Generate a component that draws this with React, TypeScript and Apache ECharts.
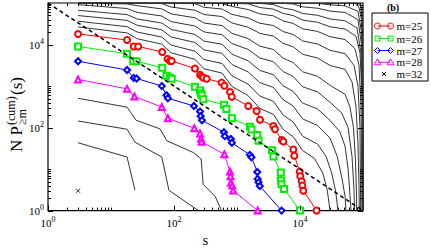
import React, { useEffect, useRef } from 'react';
import * as echarts from 'echarts';

const FONT = "'Liberation Serif', 'Times New Roman', Times, serif";

// tick values
const X_TICK_MAJOR = [1, 100, 10000];
const X_TICK_MINOR = [2, 3, 4, 5, 6, 7, 8, 9, 10, 200, 300, 400, 500, 600, 700, 800, 900, 1000, 20000, 30000, 40000, 50000, 60000, 70000, 80000, 90000];
const Y_TICK_MAJOR = [1, 100, 10000];
const Y_TICK_MINOR = [2, 3, 4, 5, 6, 7, 8, 9, 10, 200, 300, 400, 500, 600, 700, 800, 900, 1000, 20000, 30000, 40000, 50000, 60000, 70000, 80000, 90000];

// coloured series
const M25_S = [3, 18, 23, 27, 65, 79, 86, 92, 215, 259, 275, 292, 330, 570, 630, 775, 825, 1510, 2050, 2320, 3770, 4010, 5130, 5430, 7830, 8130, 9900, 10100, 10640, 10900, 11300, 18400];
const M25_V = [18000, 12800, 9000, 9000, 6600, 4500, 4000, 4000, 2650, 1870, 1710, 1580, 1500, 1210, 1020, 720, 550, 330, 250, 154, 109, 91, 50, 46, 29.5, 21, 8.7, 6.7, 5.1, 4, 3, 1];
const M26_S = [3, 18, 22.5, 25.5, 65, 76, 86, 92, 215, 259, 269, 275, 292, 620, 680, 830, 1600, 1700, 2100, 2200, 3600, 3800, 4950, 5000, 5100, 5600, 10000];
const M26_V = [9000, 6000, 3960, 3960, 2750, 1770, 1590, 1500, 960, 780, 658, 600, 480, 355, 280, 168, 105, 90, 66, 48, 28.5, 20, 8.3, 5.3, 4.3, 3.3, 1];
const M27_S = [3, 18, 23, 25.5, 64, 76, 80, 207, 259, 265, 278, 620, 640, 800, 830, 1600, 1700, 2100, 2130, 2200, 2300, 5100];
const M27_V = [3960, 2430, 1570, 1520, 1000, 600, 507, 331, 243, 188, 150, 77, 62, 53, 43, 22, 19.3, 8.5, 5.8, 4.8, 3.9, 1];
const M28_S = [3, 18, 23.5, 64, 80, 210, 259, 269, 275, 630, 775, 790, 800, 840, 870, 2130];
const M28_V = [1440, 855, 560, 312, 168, 96, 72, 54, 45.5, 22.7, 8.7, 6.7, 4.7, 4, 3.05, 1];
const M32_S = [3];
const M32_V = [3];

// black curves (other m), [s, N P] pairs
const M29 = [[3, 507], [18, 310], [25, 150], [60, 93], [77, 48], [203, 25], [270, 17.5], [290, 4.3], [450, 2.2], [570, 1]];
const M30 = [[3, 144], [18, 91], [24, 44.5], [64, 19.5], [83, 3.1], [243, 1]];
const M31 = [[3, 43], [18, 19.5], [24, 3.1]];
const M24 = [[3, 26600], [18, 19000], [26, 13800], [64, 10200], [90, 6300], [215, 4400], [300, 2600], [580, 2050], [830, 980], [1500, 590], [2300, 290], [3800, 207], [5400, 90], [7800, 60], [11000, 28], [17000, 18], [23000, 8], [27000, 3.2], [30000, 1]];
const M23 = [[3, 36400], [18, 26900], [26, 20000], [64, 15100], [90, 9700], [215, 6900], [300, 4360], [580, 3490], [830, 1770], [1500, 1110], [2300, 575], [3800, 427], [5400, 200], [7800, 136], [11000, 62], [19000, 40], [26000, 20], [32000, 7.9], [37000, 2.8], [40000, 1]];
const M22 = [[3, 49900], [18, 38100], [26, 29100], [64, 22600], [90, 15200], [215, 11200], [300, 7430], [580, 6100], [830, 3310], [1500, 2190], [2300, 1210], [3800, 925], [5400, 468], [7800, 331], [11000, 162], [19000, 112], [30000, 56], [39000, 20], [46000, 6.3], [52000, 2.2], [53500, 1]];
const M21 = [[3, 66800], [18, 52500], [26, 41200], [64, 32900], [90, 23100], [215, 17500], [300, 12100], [580, 10100], [830, 5860], [1500, 4050], [2300, 2380], [3800, 1870], [5400, 1010], [7800, 745], [11000, 389], [19000, 282], [30000, 148], [43000, 79], [52000, 35], [58000, 10], [62000, 2.5], [64500, 1]];
const M20 = [[3, 91200], [18, 73600], [26, 59400], [64, 48600], [90, 35600], [215, 27900], [300, 20100], [580, 17200], [830, 10600], [1500, 7600], [2300, 4750], [3800, 3840], [5400, 2230], [7800, 1700], [11000, 959], [19000, 724], [30000, 407], [46000, 224], [58000, 100], [67000, 20], [72000, 3.2], [73500, 1]];
const M19 = [[3, 98000], [18, 95000], [26, 86100], [64, 72100], [90, 54600], [215, 44100], [300, 32900], [580, 28600], [830, 18600], [1500, 13900], [2300, 9140], [3800, 7570], [5400, 4680], [7800, 3670], [11000, 2210], [19000, 1720], [30000, 1040], [52000, 631], [62000, 316], [70600, 100], [76000, 15.8], [78900, 2.5], [79400, 1]];
const M18 = [[3, 98500], [64, 97000], [90, 80000], [215, 67000], [300, 52800], [580, 47200], [830, 33100], [1500, 26100], [2300, 18600], [3800, 15900], [5400, 10700], [7800, 8810], [11000, 5820], [19000, 4730], [30000, 3130], [52000, 2510], [67000, 1260], [77400, 316], [83300, 40], [86400, 4], [87400, 1]];
const M17 = [[3, 99000], [215, 96600], [300, 78900], [580, 71600], [830, 53200], [1500, 43600], [2300, 32600], [3800, 28600], [5400, 20500], [7800, 17400], [11000, 12200], [19000, 10300], [30000, 7240], [52000, 6030], [71900, 3160], [83300, 1000], [89600, 100], [90600, 10], [91900, 1]];
const M16 = [[3, 99000], [580, 97000], [830, 82600], [1500, 69700], [2300, 54700], [3800, 49000], [5400, 37000], [7800, 32100], [11000, 23900], [19000, 20700], [30000, 15400], [52000, 13200], [74600, 7940], [86400, 3160], [92900, 316], [95300, 10], [96300, 1]];
const M15 = [[3, 99000], [830, 98000], [1500, 95500], [2300, 77800], [3800, 71000], [5400, 56000], [7800, 49800], [11000, 38800], [19000, 34300], [30000, 26700], [52000, 23600], [77400, 15800], [89600, 6310], [96300, 631], [98500, 15.8], [100000, 1]];
const M14 = [[3, 99000], [2300, 98000], [3800, 91600], [5400, 75500], [7800, 68500], [11000, 56000], [19000, 50600], [30000, 41300], [52000, 37300], [80300, 25100], [92900, 6310], [98100, 316], [100000, 1]];
const M13 = [[3, 99000], [5400, 98000], [7800, 94600], [11000, 80900], [19000, 74800], [30000, 64000], [52000, 59200], [83300, 39800], [94600, 10000], [98100, 1000], [100000, 1]];
const M12 = [[3, 99000], [19000, 98000], [30000, 90600], [52000, 85300], [83300, 63100], [94600, 20000], [98100, 3160], [100000, 1]];
const M11 = [[3, 99000], [74600, 98000], [86400, 79400], [94600, 39800], [98100, 10000], [100000, 1]];
const M10 = [[3, 99000], [83300, 98000], [92900, 79400], [97000, 31600], [99000, 3160], [100000, 1]];
const M9 = [[3, 99000], [90000, 98000], [95000, 70000], [98500, 20000], [100000, 1]];
const BLACK_LINES = [M9, M10, M11, M12, M13, M14, M15, M16, M17, M18, M19, M20, M21, M22, M23, M24, M29, M30, M31];

const DIAG_S = [1, 100000];
const DIAG_V = [100000, 1];

const LEGEND = [
  { label: 'm=25', color: '#ff0000', shape: 'circle' },
  { label: 'm=26', color: '#00ee00', shape: 'square' },
  { label: 'm=27', color: '#0000ff', shape: 'diamond' },
  { label: 'm=28', color: '#ff00ff', shape: 'triangle' },
  { label: 'm=32', color: '#000000', shape: 'cross' },
];

const zip = (s: number[], v: number[]) => s.map((x, i) => [x, v[i]]);

function tickSeries(values: number[], axis: 'x' | 'y', len: number) {
  return {
    type: 'custom',
    silent: true,
    z: 10,
    clip: false,
    data: values.map((v) => (axis === 'x' ? [v, 1] : [1, v])),
    renderItem: (params: any, api: any) => {
      const cs = params.coordSys;
      const st = { stroke: '#000', lineWidth: 1 };
      if (axis === 'x') {
        const p = api.coord([api.value(0), 1]);
        const x = Math.round(p[0]) + 0.5;
        return {
          type: 'group',
          children: [
            { type: 'line', shape: { x1: x, y1: cs.y + cs.height, x2: x, y2: cs.y + cs.height - len }, style: st },
            { type: 'line', shape: { x1: x, y1: cs.y, x2: x, y2: cs.y + len }, style: st },
          ],
        };
      }
      const p = api.coord([1, api.value(1)]);
      const y = Math.round(p[1]) + 0.5;
      return {
        type: 'group',
        children: [
          { type: 'line', shape: { x1: cs.x, y1: y, x2: cs.x + len, y2: y }, style: st },
          { type: 'line', shape: { x1: cs.x + cs.width, y1: y, x2: cs.x + cs.width - len, y2: y }, style: st },
        ],
      };
    },
  };
}

function legendGraphics() {
  const x0 = 372;
  const y0 = 13;
  const items: any[] = [
    { type: 'rect', shape: { x: x0, y: y0, width: 56, height: 68 }, style: { fill: '#fff', stroke: '#000', lineWidth: 1 } },
  ];
  const ys = [26, 38.5, 50.5, 62.3, 74];
  LEGEND.forEach((it, i) => {
    const y = ys[i];
    const xa = 377.5;
    const xb = 390.5;
    const st = { fill: 'none', stroke: it.color, lineWidth: 1 };
    if (it.shape !== 'cross') {
      items.push({ type: 'line', shape: { x1: xa, y1: y, x2: xb, y2: y }, style: { stroke: it.color, lineWidth: 1 } });
      [xa, xb].forEach((cx) => {
        if (it.shape === 'circle') items.push({ type: 'circle', shape: { cx, cy: y, r: 3 }, style: st });
        if (it.shape === 'square') items.push({ type: 'rect', shape: { x: cx - 2.5, y: y - 2.5, width: 5, height: 5 }, style: st });
        if (it.shape === 'diamond') items.push({ type: 'polygon', shape: { points: [[cx, y - 3], [cx + 3, y], [cx, y + 3], [cx - 3, y]] }, style: st });
        if (it.shape === 'triangle') items.push({ type: 'polygon', shape: { points: [[cx, y - 3.5], [cx + 3.5, y + 2.5], [cx - 3.5, y + 2.5]] }, style: st });
      });
    } else {
      const cx = 384;
      items.push({ type: 'line', shape: { x1: cx - 2, y1: y - 2, x2: cx + 2, y2: y + 2 }, style: { stroke: '#000', lineWidth: 1 } });
      items.push({ type: 'line', shape: { x1: cx - 2, y1: y + 2, x2: cx + 2, y2: y - 2 }, style: { stroke: '#000', lineWidth: 1 } });
    }
    items.push({ type: 'text', x: 396.5, y, style: { text: it.label, font: `11px ${FONT}`, fill: '#000', verticalAlign: 'middle', align: 'left' } });
  });
  items.push({ type: 'text', x: 393, y: 7, style: { text: '(b)', font: `bold 10px ${FONT}`, fill: '#000', verticalAlign: 'middle', align: 'center' } });
  return items;
}

function yTitle() {
  return {
    type: 'group',
    x: 16,
    y: 152,
    rotation: Math.PI / 2,
    children: [
      { type: 'text', x: 0, y: 0, style: { text: 'N P', font: `17px ${FONT}`, fill: '#000', verticalAlign: 'middle', align: 'left' } },
      { type: 'text', x: 27, y: -5, style: { text: '(cum)', font: `12px ${FONT}`, fill: '#000', verticalAlign: 'middle', align: 'left' } },
      { type: 'text', x: 27, y: 5.5, style: { text: '\u2265m', font: `12px ${FONT}`, fill: '#000', verticalAlign: 'middle', align: 'left' } },
      { type: 'text', x: 57, y: 0, style: { text: '(s)', font: `17px ${FONT}`, fill: '#000', verticalAlign: 'middle', align: 'left' } },
    ],
  };
}

const labelFormatter = (v: number) => {
  const e = Math.round(Math.log10(v));
  return e % 2 === 0 ? `{b|10}{s|${e}}` : '';
};
const labelRich = {
  b: { fontSize: 11, fontFamily: FONT, color: '#000', lineHeight: 14 },
  s: { fontSize: 8, fontFamily: FONT, color: '#000', verticalAlign: 'top', lineHeight: 14 },
};

export default function App() {
  const ref = useRef<HTMLDivElement>(null);
  useEffect(() => {
    if (!ref.current) return;
    const chart = echarts.init(ref.current, null, { renderer: 'svg' });
    const marked = (name: string, s: number[], v: number[], color: string, symbol: string) => ({
      type: 'line',
      name,
      data: zip(s, v),
      symbol,
      symbolSize: 6,
      showSymbol: true,
      clip: true,
      z: 5,
      lineStyle: { color, width: 1 },
      itemStyle: { color, borderColor: color, borderWidth: 1 },
    });
    const option: any = {
      animation: false,
      backgroundColor: '#fff',
      grid: { left: 48, top: 3, width: 315, height: 221, show: true, borderColor: '#000', borderWidth: 1.2, backgroundColor: 'transparent' },
      xAxis: {
        type: 'log',
        logBase: 10,
        min: 1,
        max: 100000,
        splitLine: { show: false },
        axisLine: { show: false },
        axisTick: { show: false },
        axisLabel: { formatter: labelFormatter, rich: labelRich, margin: 5, showMaxLabel: false },
        name: 's',
        nameLocation: 'middle',
        nameGap: 21,
        nameTextStyle: { fontFamily: FONT, fontSize: 14, color: '#000' },
      },
      yAxis: {
        type: 'log',
        logBase: 10,
        min: 1,
        max: 100000,
        splitLine: { show: false },
        axisLine: { show: false },
        axisTick: { show: false },
        axisLabel: { formatter: labelFormatter, rich: labelRich, margin: 4, showMaxLabel: false },
      },
      graphic: [yTitle(), ...legendGraphics()],
      series: [
        ...BLACK_LINES.map((l) => ({
          type: 'line',
          data: l,
          symbol: 'none',
          clip: true,
          silent: true,
          z: 3,
          lineStyle: { color: '#333', width: 1 },
        })),
        marked('m=25', M25_S, M25_V, '#ff0000', 'emptyCircle'),
        marked('m=26', M26_S, M26_V, '#00ee00', 'emptyRect'),
        marked('m=27', M27_S, M27_V, '#0000ff', 'emptyDiamond'),
        marked('m=28', M28_S, M28_V, '#ff00ff', 'emptyTriangle'),
        {
          type: 'scatter',
          name: 'm=32',
          data: zip(M32_S, M32_V),
          symbol: 'path://M0,0L10,10M10,0L0,10',
          symbolSize: 4,
          itemStyle: { color: 'none', borderColor: '#000', borderWidth: 1 },
          z: 6,
        },
        {
          type: 'line',
          data: zip(DIAG_S, DIAG_V),
          symbol: 'none',
          z: 7,
          lineStyle: { color: '#000', width: 1.5, type: [4, 3] },
        },
        tickSeries(X_TICK_MAJOR, 'x', 5),
        tickSeries(X_TICK_MINOR, 'x', 3),
        tickSeries(Y_TICK_MAJOR, 'y', 5),
        tickSeries(Y_TICK_MINOR, 'y', 3),
      ],
    };
    chart.setOption(option);
    return () => chart.dispose();
  }, []);
  return <div ref={ref} style={{ position: 'absolute', left: 0, top: 0, width: 431, height: 252 }} />;
}
